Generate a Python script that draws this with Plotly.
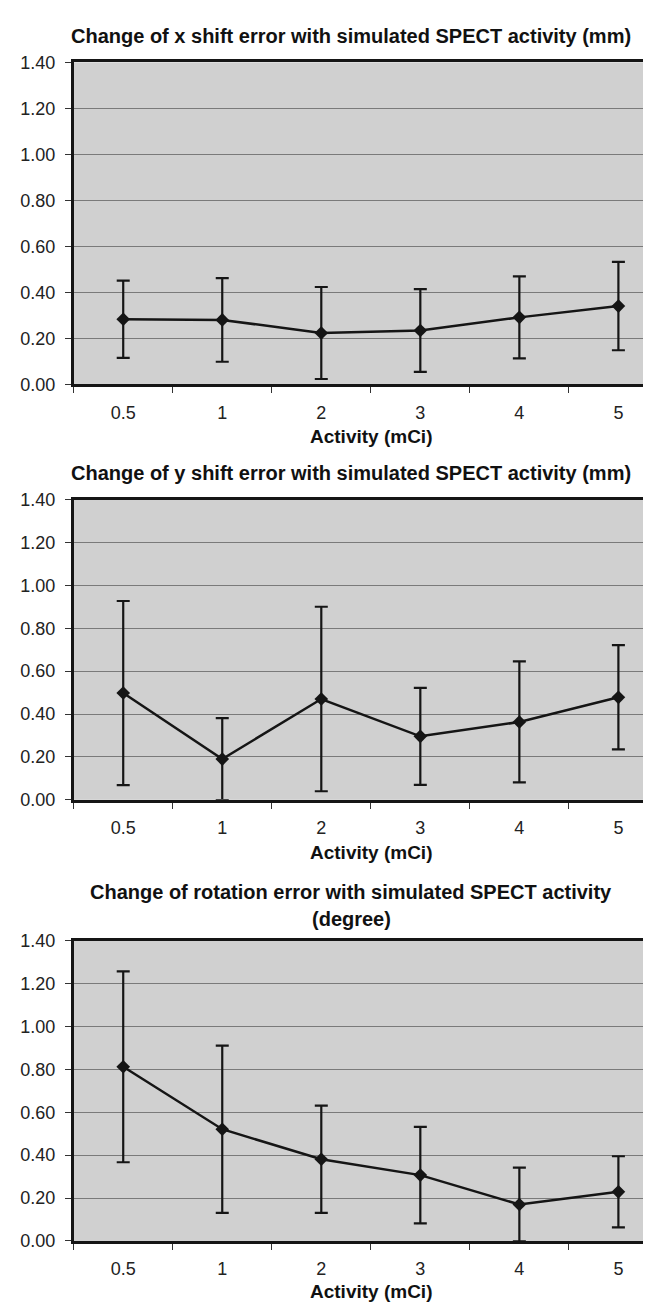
import plotly.graph_objects as go

# ---- data ----
activity = ["0.5", "1", "2", "3", "4", "5"]
x_shift_mean = [0.283, 0.280, 0.223, 0.234, 0.291, 0.340]
x_shift_err = [0.168, 0.182, 0.200, 0.180, 0.178, 0.192]
y_shift_mean = [0.498, 0.190, 0.470, 0.296, 0.363, 0.478]
y_shift_err = [0.429, 0.191, 0.430, 0.226, 0.282, 0.243]
rot_mean = [0.812, 0.521, 0.381, 0.307, 0.170, 0.229]
rot_err = [0.445, 0.390, 0.250, 0.225, 0.172, 0.166]
y_ticks = [0.0, 0.2, 0.4, 0.6, 0.8, 1.0, 1.2, 1.4]

titles = [
    ["Change of x shift error with simulated SPECT activity (mm)"],
    ["Change of y shift error with simulated SPECT activity (mm)"],
    ["Change of rotation error with simulated SPECT activity", "(degree)"],
]
x_title = "Activity (mCi)"

W, H = 651, 1306
# pixel layout of each panel
panels = [
    dict(top=45, bottom=372, title_y=[18], xt_y=425),
    dict(top=489, bottom=794, title_y=[462], xt_y=847),
    dict(top=937, bottom=1242, title_y=[888, 915], xt_y=1293),
]
series = [(x_shift_mean, x_shift_err), (y_shift_mean, y_shift_err), (rot_mean, rot_err)]

fig = go.Figure()
ink = "#151515"
font_reg = "Liberation Sans, Arial, sans-serif"

annotations = []
for i, (p, (m, e)) in enumerate(zip(panels, series)):
    k = "" if i == 0 else str(i + 1)
    fig.add_trace(go.Scatter(
        x=activity, y=m,
        mode="lines+markers",
        line=dict(color=ink, width=2.5),
        marker=dict(symbol="diamond", size=10.5, color=ink),
        error_y=dict(type="data", array=e, visible=True, color=ink, thickness=2.2, width=6.5),
        xaxis="x" + k, yaxis="y" + k, showlegend=False, hoverinfo="skip",
    ))
    dom_y = [1 - p["bottom"] / H, 1 - p["top"] / H]
    fig.layout["xaxis" + k] = dict(
        domain=[65.7 / W, 1.0], anchor="y" + k, type="category",
        range=[-0.5, 5.41], showline=True, linecolor=ink, linewidth=2.5, mirror=True,
        ticks="outside", tickson="boundaries", ticklen=6, tickcolor="#333", tickwidth=1,
        showgrid=False, zeroline=False,
        tickfont=dict(family=font_reg, size=18, color="#222"),
        ticklabelstandoff=10,
    )
    fig.layout["yaxis" + k] = dict(
        domain=dom_y, anchor="x" + k, range=[0, 1.4], tickvals=y_ticks,
        tickformat=".2f", showline=True, linecolor=ink, linewidth=2.5,
        ticks="outside", ticklen=6, tickcolor="#333", tickwidth=1,
        showgrid=True, gridcolor="#7a7a7a", gridwidth=1, zeroline=False,
        tickfont=dict(family=font_reg, size=18, color="#222"),
        ticklabelstandoff=6,
    )
    for line, ty in zip(titles[i], p["title_y"]):
        annotations.append(dict(
            text="<b>%s</b>" % line, x=343 / W, y=1 - ty / H, xref="paper", yref="paper",
            xanchor="center", yanchor="middle", showarrow=False,
            font=dict(family=font_reg, size=20, color="#111"),
        ))
    annotations.append(dict(
        text="<b>%s</b>" % x_title, x=363 / W, y=1 - p["xt_y"] / H, xref="paper", yref="paper",
        xanchor="center", yanchor="middle", showarrow=False,
        font=dict(family=font_reg, size=19, color="#111"),
    ))

fig.update_layout(
    width=W, height=H, margin=dict(l=0, r=0, t=0, b=0),
    paper_bgcolor="white", plot_bgcolor="#d0d0d0",
    annotations=annotations,
)

fig.write_html("out.html")
